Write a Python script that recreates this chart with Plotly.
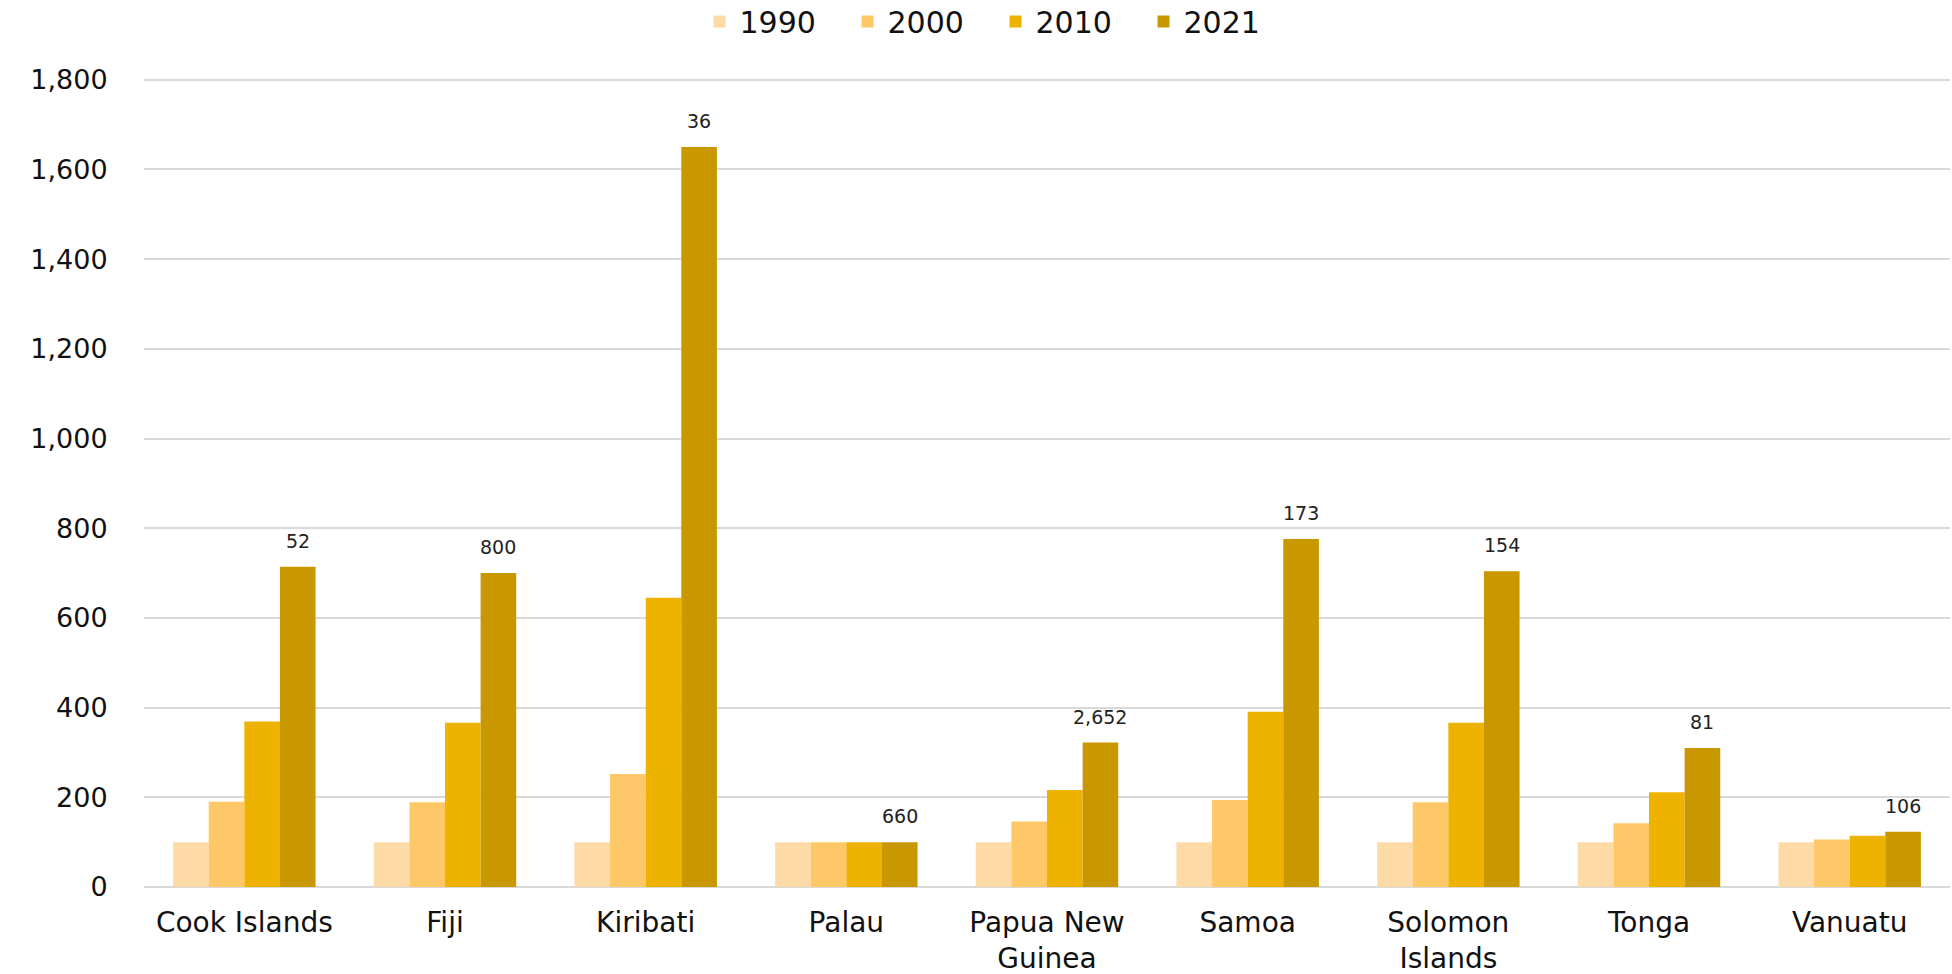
import plotly.graph_objects as go

categories = ["Cook Islands", "Fiji", "Kiribati", "Palau", "Papua New<br>Guinea",
              "Samoa", "Solomon<br>Islands", "Tonga", "Vanuatu"]
years = ["1990", "2000", "2010", "2021"]
v1990 = [100, 100, 100, 100, 100, 100, 100, 100, 100]
v2000 = [190, 189, 252, 100, 146, 194, 189, 142, 106]
v2010 = [369, 366, 645, 100, 216, 391, 366, 211, 114]
v2021 = [714, 700, 1650, 100, 322, 776, 704, 310, 123]
labels2021 = ["52", "800", "36", "660", "2,652", "173", "154", "81", "106"]
colors = ["#FEDBA6", "#FEC868", "#EEB300", "#C99700"]

FONT = "DejaVu Sans"

fig = go.Figure()
for name, vals, col in zip(years, [v1990, v2000, v2010, v2021], colors):
    fig.add_trace(go.Bar(x=list(range(len(categories))), y=vals, name=name,
                         marker=dict(color=col, line=dict(width=0))))

bargap = 0.29
bw = (1 - bargap) / 4
for i, (v, t) in enumerate(zip(v2021, labels2021)):
    fig.add_annotation(x=i + 1.5 * bw, y=v, text=t, showarrow=False,
                       yanchor="bottom", yshift=13,
                       font=dict(family=FONT, size=19, color="#222222"))

fig.update_layout(
    width=1952, height=974,
    paper_bgcolor="white", plot_bgcolor="white",
    barmode="group", bargap=bargap, bargroupgap=0,
    margin=dict(l=144, r=2, t=77, b=87, autoexpand=False),
    font=dict(family=FONT, color="#111111"),
    legend=dict(orientation="h", x=0.51, xanchor="center", y=0.978, yanchor="middle",
                xref="container", yref="container",
                font=dict(family=FONT, size=30),
                itemwidth=30, traceorder="normal",
                entrywidth=103, entrywidthmode="pixels"),
    showlegend=True,
)
fig.update_xaxes(tickmode="array", tickvals=list(range(len(categories))), ticktext=categories,
                 tickfont=dict(family=FONT, size=28, color="#111111"),
                 ticks="outside", ticklen=10, tickcolor="rgba(0,0,0,0)",
                 showgrid=False, showline=False, range=[-0.5, len(categories) - 0.5])
fig.update_yaxes(range=[0, 1806], tickvals=[0, 200, 400, 600, 800, 1000, 1200, 1400, 1600, 1800],
                 tickformat=",d",
                 tickfont=dict(family=FONT, size=27, color="#111111"),
                 showgrid=True, gridcolor="#D9D9D9", gridwidth=1.5,
                 zeroline=True, zerolinecolor="#D9D9D9", zerolinewidth=1.5,
                 ticks="outside", ticklen=30, tickcolor="rgba(0,0,0,0)")

fig.write_html("out.html", config={"displayModeBar": False},
               post_script="document.body.style.margin='0';")
